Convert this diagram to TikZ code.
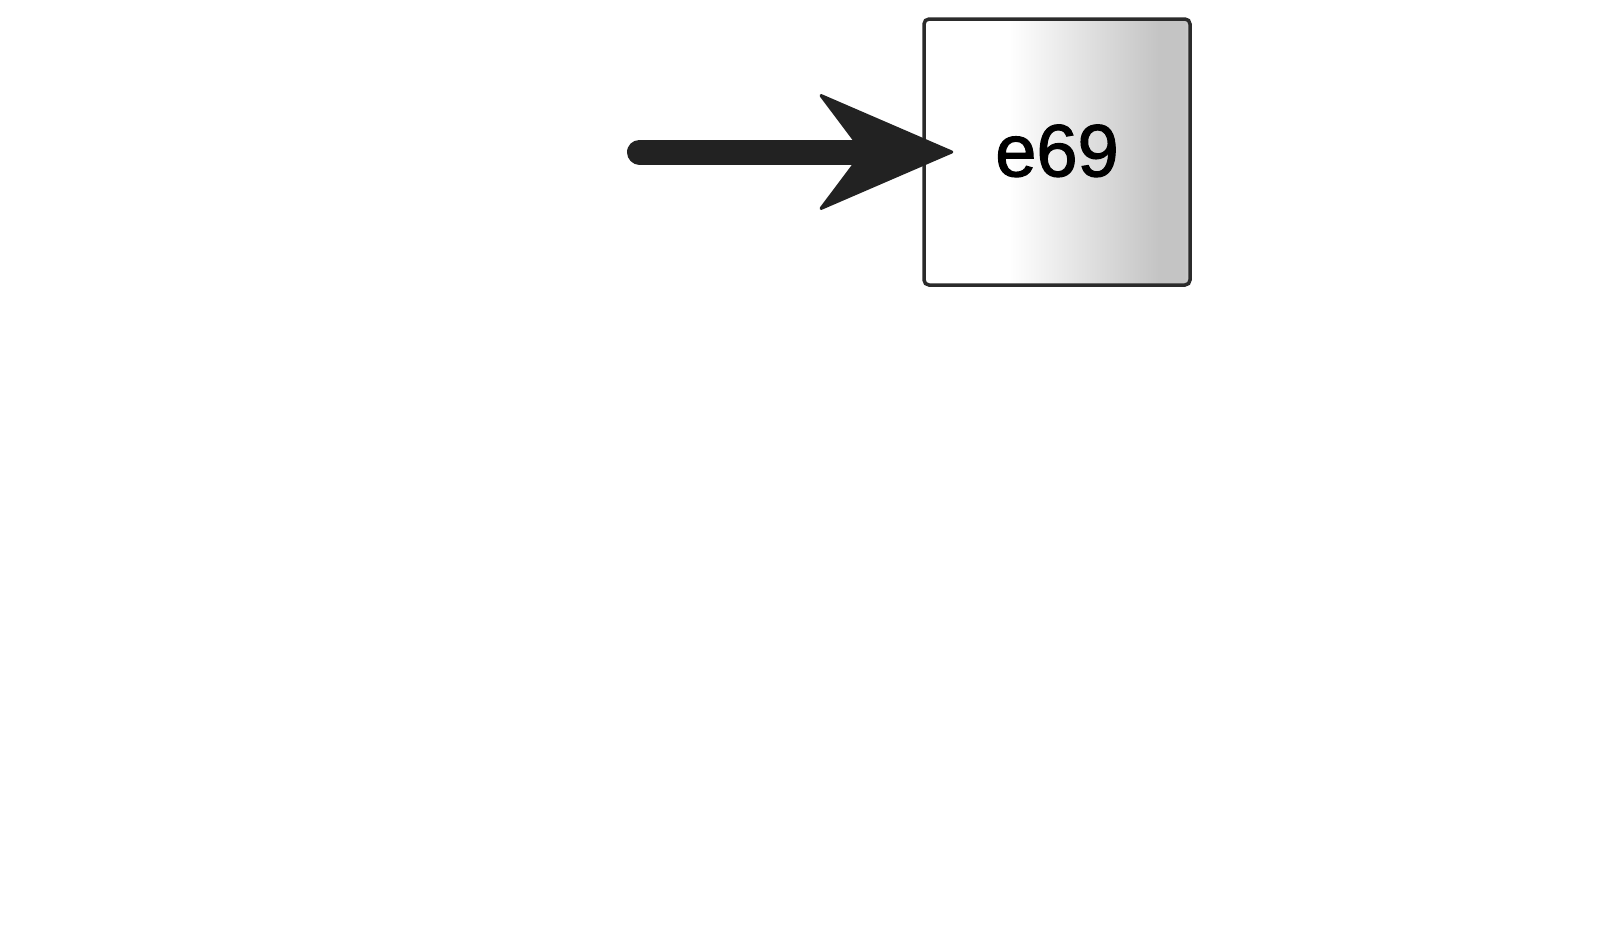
\documentclass[tikz,border=0pt]{standalone}
\usepackage{fontspec}
\setmainfont{Liberation Sans}
\newfontfamily\labelfont[FakeBold=1.6]{Liberation Sans}
\usetikzlibrary{arrows.meta}
\definecolor{ink}{HTML}{222222}
\definecolor{edge}{HTML}{2B2B2B}
\pgfdeclarehorizontalshading{boxfade}{100bp}{color(0bp)=(white); color(25bp)=(white); color(41bp)=(white); color(69bp)=(black!23); color(74bp)=(black!23); color(75bp)=(black!19); color(100bp)=(black!19)}
\tikzset{
  boxnode/.style={draw=edge, line width=3.5pt, rounded corners=5pt, shading=boxfade,
    minimum width=266pt, minimum height=266pt, inner sep=0pt,
    font=\labelfont\fontsize{74}{80}\selectfont},
  bigarrow/.style={draw=ink, line width=25pt, line cap=round,
    -{Stealth[length=139pt, width=120pt, inset=45pt, line width=3pt, round, fill=ink]}}
}
\begin{document}
\begin{tikzpicture}[x=1pt,y=1pt]
\useasboundingbox (0,0) rectangle (1600,-926);
\node[boxnode] (box) at (1057,-152) {\raisebox{3pt}{e69}};
\coordinate (start) at (639.5,-152);
\draw[bigarrow, shorten >=-31pt] (start) -- (box.west);
\end{tikzpicture}
\end{document}
